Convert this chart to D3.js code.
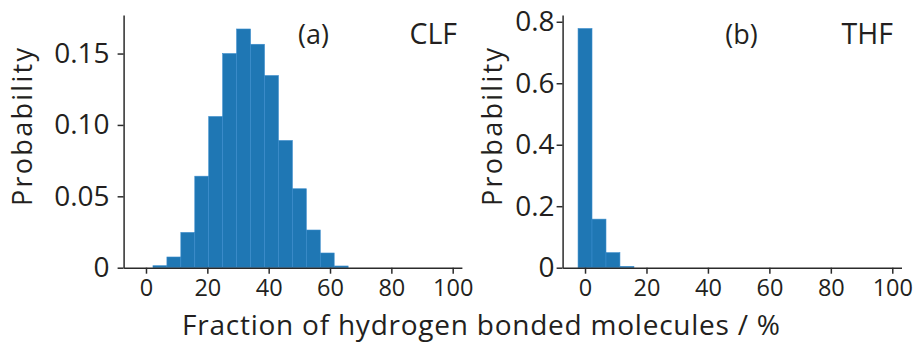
<!DOCTYPE html>
<html>
<head>
<meta charset="utf-8">
<script src="https://cdn.jsdelivr.net/npm/d3@7"></script>
<style>
  html, body { margin: 0; padding: 0; background: #fff; }
  svg { display: block; }
  text { font-family: "Open Sans", "Noto Sans", sans-serif; fill: #231f20; }
</style>
</head>
<body>
<svg id="chart" width="919" height="345"></svg>
<script>
// ---- Data ----
// Histogram bins (fraction of hydrogen bonded molecules, %): lower/upper edges
const binLo = [-2.27, 2.27, 6.82, 11.36, 15.91, 20.45, 25.00, 29.55, 34.09, 38.64, 43.18, 47.73, 52.27, 56.82, 61.36, 65.91];
const binHi = [ 2.27, 6.82, 11.36, 15.91, 20.45, 25.00, 29.55, 34.09, 38.64, 43.18, 47.73, 52.27, 56.82, 61.36, 65.91, 70.45];
// Probabilities per bin
const clfProb = [0, 0.0014, 0.0075, 0.0247, 0.0641, 0.1059, 0.1500, 0.1672, 0.1565, 0.1346, 0.0891, 0.0553, 0.0264, 0.0103, 0.0012, 0];
const thfProb = [0.778, 0.158, 0.049, 0.0045, 0, 0, 0, 0, 0, 0, 0, 0, 0, 0, 0, 0];
// Tick values / labels
const xTicks = [0, 20, 40, 60, 80, 100];
const clfYTicks = [0, 0.05, 0.10, 0.15];
const clfYLabels = ["0", "0.05", "0.10", "0.15"];
const thfYTicks = [0, 0.2, 0.4, 0.6, 0.8];
const thfYLabels = ["0", "0.2", "0.4", "0.6", "0.8"];
const panelTags = ["(a)", "(b)"];
const panelNames = ["CLF", "THF"];
const yTitle = "Probability";
const xTitle = "Fraction of hydrogen bonded molecules / %";

// ---- Layout ----
const svg = d3.select("#chart");
const barColor = "#1f77b4";
const axisColor = "#2b2b2b";

const panels = [
  { values: clfProb, yTicks: clfYTicks, yLabels: clfYLabels, yMax: 0.177,
    xRange: [123.6, 461.9], yRange: [267.7, 15], labelGap: 8, yTitleX: 32,
    tag: panelTags[0], tagX: 313.5, name: panelNames[0], nameX: 457 },
  { values: thfProb, yTicks: thfYTicks, yLabels: thfYLabels, yMax: 0.822,
    xRange: [562.6, 901.5], yRange: [267.7, 15], labelGap: 2, yTitleX: 501.7,
    tag: panelTags[1], tagX: 741.5, name: panelNames[1], nameX: 893 }
];

panels.forEach(p => {
  const x = d3.scaleLinear().domain([-7.3, 103]).range(p.xRange);
  const y = d3.scaleLinear().domain([0, p.yMax]).range(p.yRange);
  const g = svg.append("g");

  // bars
  g.selectAll("rect.bar")
    .data(p.values.map((v, i) => ({ v, lo: binLo[i], hi: binHi[i] })).filter(d => d.v > 0))
    .join("rect")
    .attr("class", "bar")
    .attr("x", d => x(d.lo))
    .attr("width", d => x(d.hi) - x(d.lo))
    .attr("y", d => y(d.v))
    .attr("height", d => y(0) - y(d.v))
    .attr("fill", barColor)
    .attr("stroke", "#3a8ccc")
    .attr("stroke-width", 0.6);

  // x axis
  const xAxis = d3.axisBottom(x).tickValues(xTicks).tickSize(6).tickSizeOuter(0).tickPadding(5);
  const xg = g.append("g").attr("transform", `translate(0,${y(0)})`).call(xAxis);
  xg.select(".domain").attr("stroke", axisColor).attr("stroke-width", 1.5);
  xg.selectAll(".tick line").attr("stroke", axisColor).attr("stroke-width", 1.5);
  xg.selectAll(".tick text").attr("font-size", 23.5).attr("font-family", "Open Sans").attr("fill", "#231f20").attr("dy", "0.72em");

  // y axis
  const yAxis = d3.axisLeft(y).tickValues(p.yTicks).tickFormat((d, i) => p.yLabels[i])
    .tickSize(6).tickSizeOuter(0).tickPadding(p.labelGap);
  const yg = g.append("g").attr("transform", `translate(${x(-7.3)},0)`).call(yAxis);
  yg.select(".domain").attr("stroke", axisColor).attr("stroke-width", 1.5);
  yg.selectAll(".tick line").attr("stroke", axisColor).attr("stroke-width", 1.5);
  yg.selectAll(".tick text").attr("font-size", 28).attr("font-family", "Open Sans").attr("fill", "#231f20");

  // y title (bottom of text at y≈206)
  g.append("text")
    .attr("transform", `translate(${p.yTitleX},206) rotate(-90)`)
    .attr("text-anchor", "start")
    .attr("font-size", 27)
    .attr("textLength", 158)
    .attr("lengthAdjust", "spacing")
    .text(yTitle);

  // panel tag and name
  g.append("text").attr("x", p.tagX).attr("y", 43.5).attr("text-anchor", "middle")
    .attr("font-size", 27).text(p.tag);
  g.append("text").attr("x", p.nameX).attr("y", 43.5).attr("text-anchor", "end")
    .attr("font-size", 28.5).text(p.name);
});

// shared x title
svg.append("text")
  .attr("x", 182).attr("y", 335)
  .attr("text-anchor", "start")
  .attr("font-size", 28)
  .attr("textLength", 598)
  .attr("lengthAdjust", "spacing")
  .text(xTitle);
</script>
</body>
</html>
